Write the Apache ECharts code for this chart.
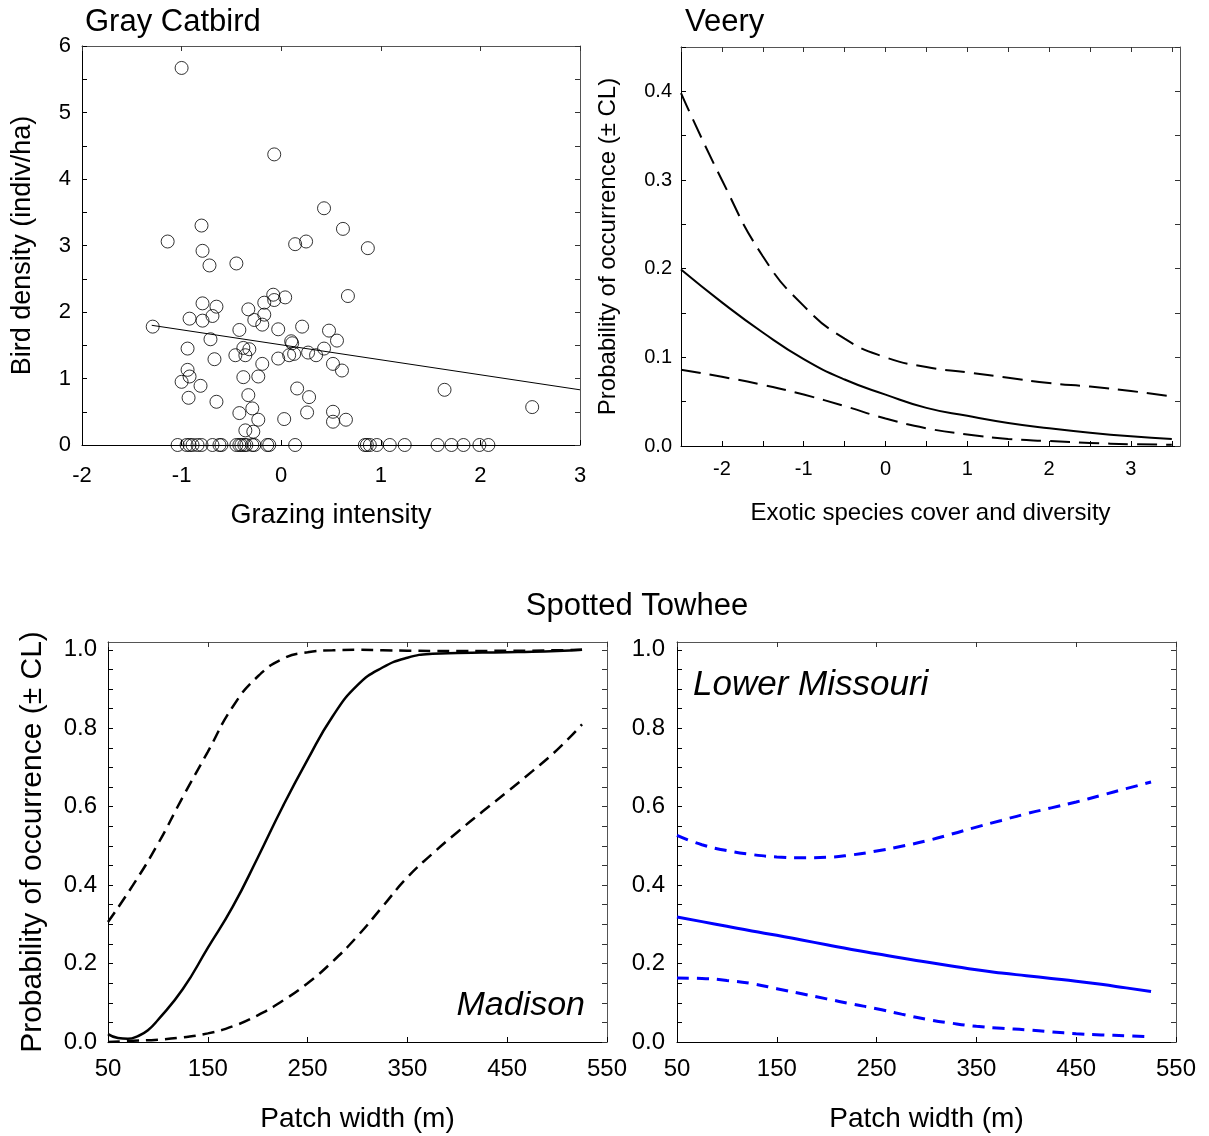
<!DOCTYPE html>
<html>
<head>
<meta charset="utf-8">
<title>Bird response plots</title>
<script src="https://cdn.jsdelivr.net/npm/echarts@6/dist/echarts.min.js"></script>
<style>
  html, body { margin: 0; padding: 0; background: #fff; }
  #main { width: 1209px; height: 1136px; }
</style>
</head>
<body>
<div id="main"></div>
<script>
// Gray Catbird - bird density vs grazing intensity
const catbirdX = [
  -1.0, -0.07, 0.43, -1.14, -0.8, -0.79, -0.72, -0.45, 0.14, 0.25, 0.62, 0.87, 0.67,
  -1.29, -0.79, -0.65, -0.92, -0.79, -0.69, -0.71, -0.94, -0.67, -0.94, -0.92, -1.0, -0.81,
  -0.93, -0.65, -0.33, -0.42, -0.27, -0.17, -0.08, -0.17, -0.07, 0.04, -0.19, -0.03, 0.21,
  0.48, 0.56, 0.1, -0.38, -0.32, -0.46, -0.36, -0.19, -0.03, 0.08, 0.11, 0.13, 0.27, 0.35,
  0.43, 0.52, 0.61, -0.38, -0.23, 0.16, 0.28, -0.33, -0.42, -0.29, -0.23, -0.36, -0.28,
  0.03, 0.26, 0.52, 0.52, 0.65, 1.64, 2.52,
  // zero-density plots
  -1.04, -0.95, -0.92, -0.89, -0.84, -0.8, -0.69, -0.62, -0.6, -0.45, -0.42, -0.4, -0.37,
  -0.35, -0.29, -0.27, -0.14, -0.12, 0.14, 0.84, 0.86, 0.89, 0.96, 1.09, 1.24, 1.57, 1.71,
  1.83, 1.99, 2.08
];
const catbirdY = [
  5.67, 4.37, 3.56, 3.06, 3.30, 2.92, 2.70, 2.73, 3.02, 3.06, 3.25, 2.96, 2.24,
  1.78, 2.13, 2.08, 1.90, 1.87, 1.94, 1.59, 1.45, 1.29, 1.13, 1.03, 0.95, 0.89,
  0.71, 0.65, 2.04, 1.73, 1.88, 1.96, 2.26, 2.14, 2.18, 2.22, 1.81, 1.74, 1.78,
  1.72, 1.57, 1.56, 1.46, 1.44, 1.35, 1.35, 1.22, 1.30, 1.35, 1.53, 1.37, 1.39, 1.35,
  1.45, 1.22, 1.12, 1.02, 1.03, 0.85, 0.72, 0.75, 0.48, 0.55, 0.38, 0.22, 0.20,
  0.39, 0.49, 0.50, 0.35, 0.38, 0.83, 0.57,
  0, 0, 0, 0, 0, 0, 0, 0, 0, 0, 0, 0, 0,
  0, 0, 0, 0, 0, 0, 0, 0, 0, 0, 0, 0, 0, 0,
  0, 0, 0
];
const catbirdFitX = [-1.3, 3];
const catbirdFitY = [1.80, 0.83];
const catbirdTicksX = [-2, -1, 0, 1, 2, 3];
const catbirdTicksY = [0, 1, 2, 3, 4, 5, 6];

// Veery - probability of occurrence vs exotic species
const veeryX = [-2.5, -2, -1.5, -1, -0.5, 0, 0.5, 1, 1.5, 2, 2.5, 3, 3.5];
const veeryUpper = [0.398, 0.30, 0.214, 0.158, 0.121, 0.100, 0.089, 0.083, 0.077, 0.071, 0.067, 0.062, 0.056];
const veeryFit = [0.199, 0.162, 0.128, 0.098, 0.075, 0.058, 0.043, 0.034, 0.026, 0.020, 0.015, 0.011, 0.008];
const veeryLower = [0.086, 0.078, 0.069, 0.058, 0.045, 0.031, 0.020, 0.013, 0.008, 0.0056, 0.0035, 0.002, 0.0015];
const veeryTicksX = [-2, -1, 0, 1, 2, 3];
const veeryTicksY = [0, 0.1, 0.2, 0.3, 0.4];

// Spotted Towhee - Madison
const madisonFitX = [50, 60, 70, 80, 90, 100, 125, 150, 175, 200, 225, 250, 275, 300, 325, 350, 375, 400, 425, 450, 475, 500, 525];
const madisonFit = [0.02, 0.01, 0.008, 0.015, 0.03, 0.056, 0.135, 0.24, 0.345, 0.47, 0.6, 0.72, 0.83, 0.91, 0.955, 0.98, 0.99, 0.992, 0.993, 0.994, 0.995, 0.997, 1.0];
const madisonX = [50, 75, 100, 125, 150, 175, 200, 225, 250, 275, 300, 325, 350, 375, 400, 425, 450, 475, 500, 525];
const madisonUpper = [0.306, 0.40, 0.505, 0.625, 0.74, 0.855, 0.932, 0.977, 0.994, 0.999, 1.0, 0.999, 0.998, 0.997, 0.997, 0.997, 0.998, 0.998, 0.999, 1.0];
const madisonLower = [0.0, 0.003, 0.006, 0.012, 0.022, 0.04, 0.068, 0.105, 0.15, 0.205, 0.27, 0.345, 0.42, 0.48, 0.535, 0.587, 0.638, 0.69, 0.745, 0.81];

// Spotted Towhee - Lower Missouri
const missouriX = [50, 75, 100, 125, 150, 175, 200, 225, 250, 275, 300, 325, 350, 375, 400, 425, 450, 475, 500, 525];
const missouriFit = [0.319, 0.307, 0.295, 0.283, 0.272, 0.260, 0.248, 0.236, 0.225, 0.214, 0.204, 0.194, 0.184, 0.176, 0.169, 0.162, 0.155, 0.147, 0.138, 0.129];
const missouriUpper = [0.527, 0.503, 0.488, 0.478, 0.472, 0.470, 0.471, 0.477, 0.487, 0.499, 0.513, 0.530, 0.548, 0.565, 0.582, 0.597, 0.612, 0.629, 0.646, 0.663];
const missouriLower = [0.163, 0.162, 0.157, 0.149, 0.136, 0.123, 0.110, 0.097, 0.085, 0.071, 0.058, 0.048, 0.040, 0.035, 0.031, 0.026, 0.021, 0.018, 0.016, 0.013];

const patchTicksX = [50, 150, 250, 350, 450, 550];
const probTicksY = [0, 0.2, 0.4, 0.6, 0.8, 1.0];

const FONT = 'Liberation Sans, Arial, sans-serif';
const BLUE = '#0000ff';

function pairs(xs, ys) {
  return xs.map((x, i) => [x, ys[i]]);
}

function steps(from, to, step) {
  const out = [];
  for (let v = from; v <= to + 1e-9; v += step) out.push(Math.round(v * 1000) / 1000);
  return out;
}

// main axis: black line, inward ticks, labels
function axis(type, grid, o) {
  return {
    type: 'value',
    gridIndex: grid,
    position: type === 'x' ? 'bottom' : 'left',
    min: o.min,
    max: o.max,
    axisLine: { onZero: false, lineStyle: { color: '#000', width: 1 } },
    axisTick: { inside: true, length: 5, customValues: o.ticks, lineStyle: { color: '#000' } },
    axisLabel: {
      customValues: o.labels,
      color: '#000',
      fontFamily: FONT,
      fontSize: o.fontSize,
      margin: o.margin,
      formatter: o.formatter
    },
    splitLine: { show: false },
    name: o.name,
    nameLocation: 'middle',
    nameGap: o.nameGap,
    nameTextStyle: { color: '#000', fontFamily: FONT, fontSize: o.nameSize }
  };
}

// mirrored axis on top / right, ticks only
function mirror(type, grid, o) {
  return {
    type: 'value',
    gridIndex: grid,
    position: type === 'x' ? 'top' : 'right',
    min: o.min,
    max: o.max,
    axisLine: { onZero: false, lineStyle: { color: '#555', width: 1 } },
    axisTick: { inside: true, length: 5, customValues: o.ticks, lineStyle: { color: '#333' } },
    axisLabel: { show: false },
    splitLine: { show: false }
  };
}

const dec1 = v => v.toFixed(1);

const catX = { min: -2, max: 3, ticks: catbirdTicksX, labels: catbirdTicksX, fontSize: 22, margin: 20,
  name: 'Grazing intensity', nameGap: 57, nameSize: 27 };
const catY = { min: 0, max: 6, ticks: steps(0, 6, 0.5), labels: catbirdTicksY, fontSize: 22, margin: 11,
  name: 'Bird density (indiv/ha)', nameGap: 46, nameSize: 27 };
const vX = { min: -2.5, max: 3.6, ticks: steps(-2.5, 3.5, 0.5), labels: veeryTicksX, fontSize: 20, margin: 13,
  name: 'Exotic species cover and diversity', nameGap: 55, nameSize: 24 };
const vY = { min: 0, max: 0.45, ticks: steps(0, 0.45, 0.05), labels: veeryTicksY, fontSize: 20, margin: 9,
  formatter: dec1, name: 'Probability of occurrence (± CL)', nameGap: 61, nameSize: 24 };
const pX = { min: 50, max: 550, ticks: patchTicksX, labels: patchTicksX, fontSize: 24, margin: 15,
  name: 'Patch width (m)', nameGap: 63, nameSize: 28 };
const pY = { min: 0, max: 1.02, ticks: steps(0, 1, 0.05), labels: probTicksY, fontSize: 24, margin: 11,
  formatter: dec1, name: 'Probability of occurrence (± CL)', nameGap: 60, nameSize: 30 };
const pY2 = Object.assign({}, pY, { name: '', margin: 12 });

const dashedBlack = (w, d) => ({ color: '#000', width: w, type: d });

const option = {
  animation: false,
  backgroundColor: '#fff',
  grid: [
    { left: 82, top: 46, width: 498, height: 399 },
    { left: 681, top: 47, width: 499, height: 399 },
    { left: 108, top: 642, width: 499, height: 400 },
    { left: 677, top: 642, width: 499, height: 400 }
  ],
  xAxis: [
    axis('x', 0, catX), axis('x', 1, vX), axis('x', 2, pX), axis('x', 3, pX),
    mirror('x', 0, catX), mirror('x', 1, vX), mirror('x', 2, pX), mirror('x', 3, pX)
  ],
  yAxis: [
    axis('y', 0, catY), axis('y', 1, vY), axis('y', 2, pY), axis('y', 3, pY2),
    mirror('y', 0, catY), mirror('y', 1, vY), mirror('y', 2, pY), mirror('y', 3, pY)
  ],
  graphic: [
    { type: 'text', left: 85, top: 7, style: { text: 'Gray Catbird', font: '31px ' + FONT, fill: '#000' } },
    { type: 'text', left: 685, top: 7, style: { text: 'Veery', font: '31px ' + FONT, fill: '#000' } },
    { type: 'text', x: 637, y: 606, style: { text: 'Spotted Towhee', font: '31px ' + FONT, fill: '#000',
      textAlign: 'center', textVerticalAlign: 'middle' } },
    { type: 'text', x: 585, y: 1006, style: { text: 'Madison', font: 'italic 34px ' + FONT, fill: '#000',
      textAlign: 'right', textVerticalAlign: 'middle' } },
    { type: 'text', x: 693, y: 685, style: { text: 'Lower Missouri', font: 'italic 35px ' + FONT, fill: '#000',
      textAlign: 'left', textVerticalAlign: 'middle' } }
  ],
  series: [
    {
      type: 'scatter', xAxisIndex: 0, yAxisIndex: 0,
      data: pairs(catbirdX, catbirdY),
      symbol: 'circle', symbolSize: 13,
      itemStyle: { color: 'rgba(255,255,255,0)', borderColor: '#000', borderWidth: 1 }
    },
    {
      type: 'line', xAxisIndex: 0, yAxisIndex: 0,
      data: pairs(catbirdFitX, catbirdFitY), showSymbol: false,
      lineStyle: { color: '#000', width: 1 }
    },
    // Veery
    { type: 'line', xAxisIndex: 1, yAxisIndex: 1, data: pairs(veeryX, veeryUpper), smooth: true, showSymbol: false,
      lineStyle: dashedBlack(2, [20, 9]) },
    { type: 'line', xAxisIndex: 1, yAxisIndex: 1, data: pairs(veeryX, veeryFit), smooth: true, showSymbol: false,
      lineStyle: { color: '#000', width: 2 } },
    { type: 'line', xAxisIndex: 1, yAxisIndex: 1, data: pairs(veeryX, veeryLower), smooth: true, showSymbol: false,
      lineStyle: dashedBlack(2, [20, 9]) },
    // Madison
    { type: 'line', xAxisIndex: 2, yAxisIndex: 2, data: pairs(madisonX, madisonUpper), smooth: true, showSymbol: false,
      lineStyle: dashedBlack(2.5, [12, 7]) },
    { type: 'line', xAxisIndex: 2, yAxisIndex: 2, data: pairs(madisonFitX, madisonFit), smooth: true, showSymbol: false,
      lineStyle: { color: '#000', width: 2.5 } },
    { type: 'line', xAxisIndex: 2, yAxisIndex: 2, data: pairs(madisonX, madisonLower), smooth: true, showSymbol: false,
      lineStyle: dashedBlack(2.5, [12, 7]) },
    // Lower Missouri
    { type: 'line', xAxisIndex: 3, yAxisIndex: 3, data: pairs(missouriX, missouriUpper), smooth: true, showSymbol: false,
      lineStyle: { color: BLUE, width: 3, type: [12, 8] } },
    { type: 'line', xAxisIndex: 3, yAxisIndex: 3, data: pairs(missouriX, missouriFit), smooth: true, showSymbol: false,
      lineStyle: { color: BLUE, width: 3 } },
    { type: 'line', xAxisIndex: 3, yAxisIndex: 3, data: pairs(missouriX, missouriLower), smooth: true, showSymbol: false,
      lineStyle: { color: BLUE, width: 3, type: [12, 8] } }
  ]
};

const chart = echarts.init(document.getElementById('main'), null, { renderer: 'canvas' });
chart.setOption(option);
</script>
</body>
</html>
